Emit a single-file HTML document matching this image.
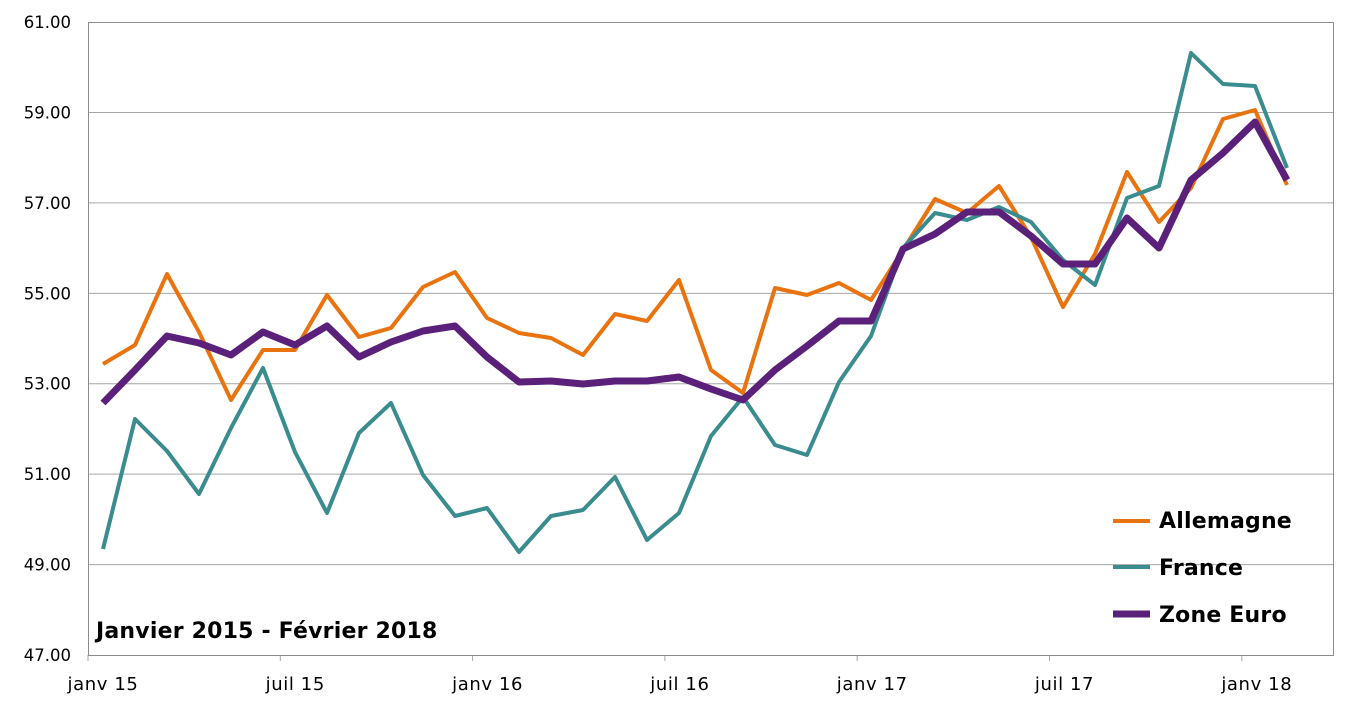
<!DOCTYPE html>
<html><head><meta charset="utf-8"><style>
body{margin:0;background:#fff;}
svg{display:block;font-family:"DejaVu Sans","Liberation Sans",sans-serif;}
</style></head><body>
<svg width="1354" height="705" viewBox="0 0 1354 705">
<g id="grid" stroke="#a6a6a6" stroke-width="1"></g>
<rect x="88.5" y="22.5" width="1245" height="633" fill="none" stroke="#8c8c8c"/>
<g id="ylab" font-size="16.5" fill="#000" text-anchor="end"></g>
<g id="xlab" font-size="18" letter-spacing="0.6" fill="#000" text-anchor="middle"></g>
<g id="series" fill="none" stroke-linejoin="round"></g>
<text x="96" y="638" font-size="22" letter-spacing="0.2" font-weight="bold">Janvier 2015 - Février 2018</text>
<g font-size="22" letter-spacing="0.2" font-weight="bold">
<line x1="1113" y1="521" x2="1150" y2="521" stroke="#e8730f" stroke-width="4"/>
<text x="1159" y="528">Allemagne</text>
<line x1="1113" y1="567" x2="1150" y2="567" stroke="#3a8c8f" stroke-width="4"/>
<text x="1159" y="575">France</text>
<line x1="1113" y1="614" x2="1150" y2="614" stroke="#5b2079" stroke-width="7"/>
<text x="1159" y="622">Zone Euro</text>
</g>
</svg>
<script>
const ns="http://www.w3.org/2000/svg";
function el(p,t,a,txt){const e=document.createElementNS(ns,t);for(const k in a)e.setAttribute(k,a[k]);if(txt)e.textContent=txt;document.getElementById(p).appendChild(e);}
for(let i=0;i<7;i++){const v=49+2*i;const y=655-(v-47)*45.21;if(v<61)el('grid','line',{x1:88,x2:1333,y1:y,y2:y});}
for(let i=0;i<8;i++){const v=47+2*i;const y=655-(v-47)*45.21;el('ylab','text',{x:71,y:y+6},v.toFixed(2));}
const xl=["janv 15","juil 15","janv 16","juil 16","janv 17","juil 17","janv 18"];
xl.forEach((t,i)=>{const x=88+i*192.3;el('grid','line',{x1:x,x2:x,y1:655,y2:661});el('xlab','text',{x:x+15,y:690},t);});
const A=[364,345,274,332,400,350,350,295,337,328,287,272,318,333,338,355,314,321,280,370,393,288,295,283,300,250,199,213,186,237,307,254,172,222,188,119,110,185];
const F=[549,419,451,494,428,368,452,513,433,403,475,516,508,552,516,510,477,540,513,436,397,445,455,382,336,248,213,220,207,222,260,285,198,186,53,84,86,168];
const Z=[403,370,336,343,355,332,345,326,357,342,331,326,357,382,381,384,381,381,377,389,400,370,346,321,321,249,234,212,212,236,264,264,218,248,180,153,122,180];
function pts(a){return a.map((y,i)=>(103+i*32).toFixed(1)+","+y).join(" ");}
el('series','polyline',{points:pts(A),stroke:"#e8730f","stroke-width":4});
el('series','polyline',{points:pts(F),stroke:"#3a8c8f","stroke-width":4});
el('series','polyline',{points:pts(Z),stroke:"#5b2079","stroke-width":7});
</script>
</body></html>
